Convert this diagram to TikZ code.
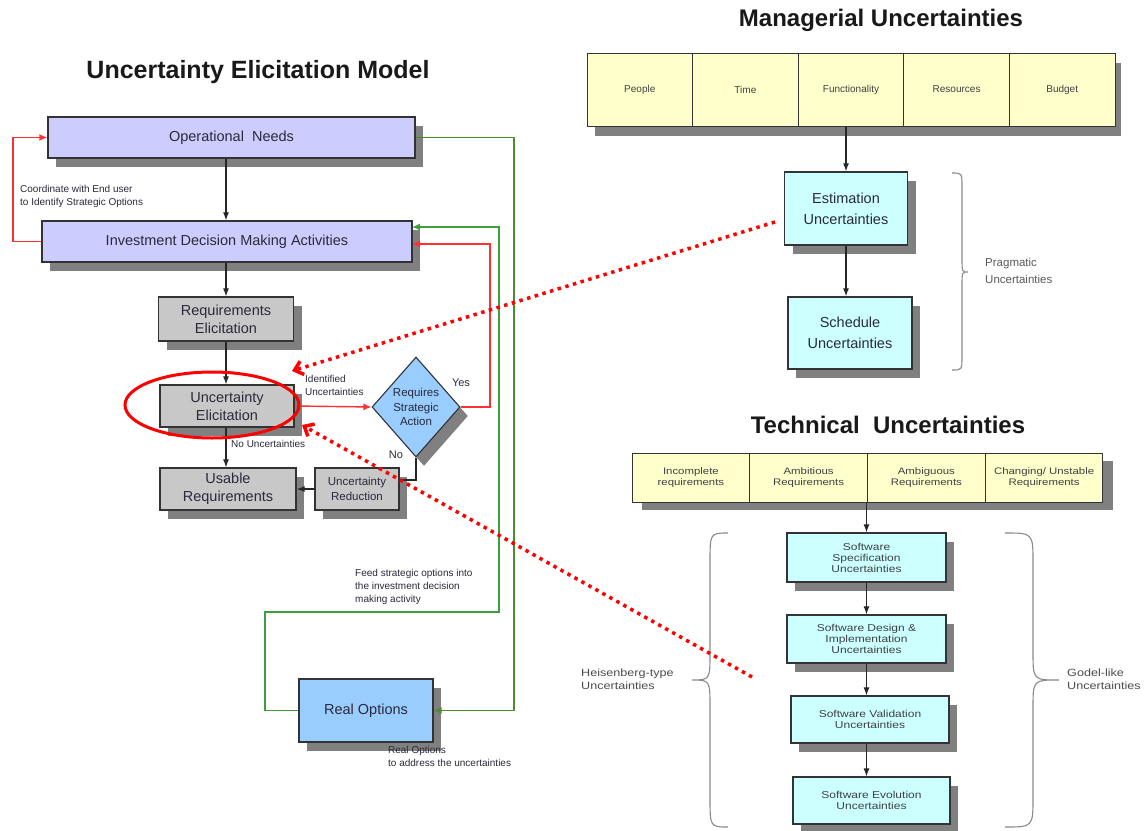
\documentclass[tikz,border=0pt]{standalone}
\usepackage{fontspec}
\setmainfont{Liberation Sans}
\newfontfamily\wfont[FakeStretch=1.2]{Liberation Sans}
\usetikzlibrary{arrows.meta,shapes.geometric,shadows}
\definecolor{lav}{HTML}{CCCCFF}
\definecolor{lgray}{HTML}{C8C8C8}
\definecolor{lblue}{HTML}{99CCFF}
\definecolor{lcyan}{HTML}{CCFFFF}
\definecolor{lyel}{HTML}{FFFFCC}
\definecolor{shg}{HTML}{808080}
\definecolor{bline}{HTML}{333333}
\definecolor{txt}{HTML}{2A2A3A}
\definecolor{gdark}{HTML}{4E8A2E}
\definecolor{glight}{HTML}{3DA03D}
\definecolor{brgray}{HTML}{8A8A8A}
\definecolor{rline}{HTML}{FF3030}
\newcommand\szA{\fontsize{14.5}{18}\selectfont}
\newcommand\szE{\fontsize{14.5}{21}\selectfont}
\newcommand\szM{\fontsize{11.5}{14.5}\selectfont}
\newcommand\szS{\fontsize{10}{13}\selectfont}
\newcommand\szY{\fontsize{11}{13}\selectfont}
\newcommand\szT{\fontsize{24}{28}\selectfont\bfseries}
\newcommand\szTL{\fontsize{25}{28}\selectfont\bfseries}
\newcommand\szC{\fontsize{10}{12}\selectfont}
\newcommand\szW{\wfont\fontsize{9.5}{11}\selectfont}
\newcommand\szX{\wfont\fontsize{10}{11}\selectfont}
\newcommand\szH{\wfont\fontsize{10.5}{13}\selectfont}
\newcommand\szP{\fontsize{11.5}{17}\selectfont}
\begin{document}
\begin{tikzpicture}[x=1pt,y=-1pt,
  every node/.style={inner sep=0pt, text=txt},
  sh/.style={drop shadow={opacity=1,fill=shg,shadow xshift=8pt,shadow yshift=-9pt}},
  box/.style={draw=bline,line width=1.3pt,sh,align=center,font=\szA},
  lavbox/.style={box,fill=lav},
  graybox/.style={box,fill=lgray},
  cyanbox/.style={box,fill=lcyan,font=\szE},
  techbox/.style={draw=bline,line width=1.1pt,sh,align=center,fill=lcyan,font=\szX,text=black!75},
  cell/.style={draw=bline,line width=1pt,fill=lyel,align=center,text=black!75},
  arr/.style={draw=black!85,line width=1.2pt,-{Latex[length=8pt,width=6pt]}},
  blk/.style={draw=black!85,line width=1.2pt},
  rarr/.style={draw=rline,line width=1.4pt,-{Latex[length=8pt,width=7pt]}},
  g1arr/.style={draw=gdark,line width=1.4pt,-{Latex[length=8pt,width=7pt]}},
  g2arr/.style={draw=glight,line width=1.4pt,-{Latex[length=8pt,width=7pt]}},
  dotarr/.style={draw=red,line width=3.5pt,dash pattern=on 3.5pt off 4.5pt,-{Straight Barb[length=8pt,width=14pt]}},
  bracel/.style={draw=brgray,line width=1.1pt},
  lbl/.style={anchor=west,align=left,font=\szS}
]
\useasboundingbox[fill=white] (0,0) rectangle (1148,830);

% ---------- titles ----------
\node[font=\szTL,text=black!90] (t1) at (258,72) {Uncertainty Elicitation Model};
\node[font=\szT,text=black!90] (t2) at (881,20) {Managerial Uncertainties};
\node[font=\szT,text=black!90] (t3) at (888,425) {Technical\ \ Uncertainties};

% ---------- left model ----------
\node[lavbox,minimum width=367pt,minimum height=41pt] (ops) at (231.5,137.5) {Operational\ \ Needs};
\node[lavbox,minimum width=370pt,minimum height=41pt] (inv) at (227,241.5) {Investment Decision Making Activities};
\node[graybox,minimum width=135pt,minimum height=44pt] (req) at (226,319) {Requirements\\Elicitation};
\node[graybox,minimum width=134pt,minimum height=42pt] (unc) at (227,406) {Uncertainty\\Elicitation};
\node[graybox,minimum width=136pt,minimum height=42pt] (usable) at (228,489) {Usable\\Requirements};
\node[graybox,minimum width=84pt,minimum height=42pt,font=\szM] (ured) at (357,489) {Uncertainty\\Reduction};
\node[diamond,draw=bline,line width=1.1pt,fill=lblue,sh,minimum width=88pt,minimum height=100pt] (dia) at (416,407) {};
\node[align=center,font=\szM] (diat) at (dia.center) {Requires\\Strategic\\Action};
\node[box,fill=lblue,minimum width=134pt,minimum height=63pt] (realopt) at (366,710.5) {Real Options};

\coordinate (rl) at (13,0);
\coordinate (g1) at (514,0);
\coordinate (g2) at (265,612);
\coordinate (g3) at (499,612);
\coordinate (invG) at (412,227);
\coordinate (invR) at (412,244);
\coordinate (r2) at (490,0);
\coordinate (dn) at (416,480);

\draw[arr] (ops.south -| req.north) -- (inv.north -| req.north);
\draw[arr] (inv.south -| req.north) -- (req.north);
\draw[arr] (req.south) -- (unc.north -| req.south);
\draw[arr] (unc.south -| req.south) -- (usable.north -| req.south);
\draw[rarr] (inv.west) -- (inv.west -| rl) |- (ops.west);
\draw[rarr] (unc.east) -- (dia.west);
\draw[rarr] (dia.east) -- (dia.east -| r2) |- (invR);
\draw[blk] (dia.south) -- (dn) -- (dn -| ured.east);
\draw[arr] (ured.west) -- (usable.east);
\draw[g1arr] (ops.east) -| (g1 |- realopt.east) -- (realopt.east);
\draw[g2arr] (realopt.west) -| (g2) -- (g3) |- (invG);

\node[lbl] (lcoord) at (20,196.5) {Coordinate with End user\\to Identify Strategic Options};
\node[lbl] (lident) at (305,385.5) {Identified\\Uncertainties};
\node[lbl] (lnou) at (231,444) {No Uncertainties};
\node[font=\szY] (lyes) at (461,383) {Yes};
\node[font=\szY] (lno) at (396,455) {No};
\node[lbl] (lfeed) at (355,587) {Feed strategic options into\\the investment decision\\making activity};
\node[lbl] (lreal) at (388,756) {Real Options\\to address the uncertainties};

\node[ellipse,draw=red,line width=3pt,minimum width=174pt,minimum height=66pt] (ring) at (212,405) {};

% ---------- managerial ----------
\fill[shg] (595,63) rectangle (1121,136);
\node[cell,minimum width=105.6pt,minimum height=73pt,font=\szC] (m1) at (639.8,89.5) {People};
\node[cell,minimum width=105.6pt,minimum height=73pt,font=\szC] (m2) at (745.4,89.5) {Time};
\node[cell,minimum width=105.6pt,minimum height=73pt,font=\szC] (m3) at (851,89.5) {Functionality};
\node[cell,minimum width=105.6pt,minimum height=73pt,font=\szC] (m4) at (956.6,89.5) {Resources};
\node[cell,minimum width=105.6pt,minimum height=73pt,font=\szC] (m5) at (1062.2,89.5) {Budget};

\node[cyanbox,minimum width=123pt,minimum height=73pt] (est) at (846,208.5) {Estimation\\Uncertainties};
\node[cyanbox,minimum width=124pt,minimum height=72pt] (sched) at (850,333) {Schedule\\Uncertainties};
\draw[arr] (m3.south -| est.north) -- (est.north);
\draw[arr] (est.south) -- (est.south |- sched.north);

\draw[bracel] (952,173) .. controls (962,173) .. (962,187) -- (962,258) .. controls (962,272) .. (968,272) .. controls (962,272) .. (962,286) -- (962,356) .. controls (962,370) .. (952,370);
\node[lbl,font=\szP,text=black!65] (lprag) at (985,271) {Pragmatic\\Uncertainties};

% ---------- technical ----------
\fill[shg] (642,461) rectangle (1113,510);
\node[cell,minimum width=117.75pt,minimum height=49pt,font=\szW] (c1) at (690.9,477.5) {Incomplete\\requirements};
\node[cell,minimum width=117.75pt,minimum height=49pt,font=\szW] (c2) at (808.6,477.5) {Ambitious\\Requirements};
\node[cell,minimum width=117.75pt,minimum height=49pt,font=\szW] (c3) at (926.4,477.5) {Ambiguous\\Requirements};
\node[cell,minimum width=117.75pt,minimum height=49pt,font=\szW] (c4) at (1044.1,477.5) {Changing/ Unstable\\Requirements};

\node[techbox,minimum width=159pt,minimum height=49pt] (spec) at (866.5,557.5) {Software\\Specification\\Uncertainties};
\node[techbox,minimum width=159pt,minimum height=48pt] (design) at (866.5,639) {Software Design \&\\Implementation\\Uncertainties};
\node[techbox,minimum width=158pt,minimum height=47pt] (valid) at (870,719.5) {Software Validation\\Uncertainties};
\node[techbox,minimum width=157pt,minimum height=47pt] (evol) at (871.5,800.5) {Software Evolution\\Uncertainties};
\draw[arr] (spec.north |- c2.south) -- (spec.north);
\draw[arr] (spec.south) -- (design.north);
\draw[arr] (design.south) -- (design.south |- valid.north);
\draw[arr] (design.south |- valid.south) -- (design.south |- evol.north);

\draw[bracel] (728,533) .. controls (710,533) .. (710,563) -- (710,652) .. controls (710,680) .. (692,680) .. controls (710,680) .. (710,708) -- (710,797) .. controls (710,827) .. (728,827);
\draw[bracel] (1005,533) .. controls (1033,533) .. (1033,563) -- (1033,652) .. controls (1033,680) .. (1059,680) .. controls (1033,680) .. (1033,708) -- (1033,797) .. controls (1033,827) .. (1005,827);
\node[lbl,font=\szH,text=black!70] (lheis) at (581,679.5) {Heisenberg-type\\Uncertainties};
\node[lbl,font=\szH,text=black!70] (lgod) at (1067,679.5) {Godel-like\\Uncertainties};

% ---------- dotted links ----------
\coordinate (d1s) at (775,222);
\coordinate (d1e) at (292,371);
\coordinate (d2s) at (752,677);
\coordinate (d2e) at (302,425);
\draw[dotarr] (d1s) -- (d1e);
\draw[dotarr] (d2s) -- (d2e);
\end{tikzpicture}
\end{document}
